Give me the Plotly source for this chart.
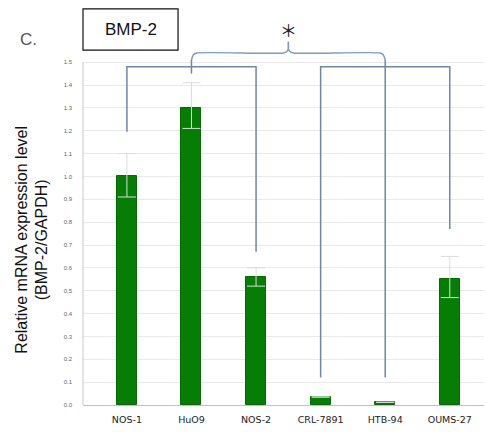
import plotly.graph_objects as go

# ---- data ----
categories = ["NOS-1", "HuO9", "NOS-2", "CRL-7891", "HTB-94", "OUMS-27"]
values = [1.00, 1.30, 0.56, 0.035, 0.012, 0.55]
err_plus = [0.10, 0.11, 0.04, 0.0, 0.0, 0.10]
err_minus = [0.09, 0.09, 0.04, 0.0, 0.0, 0.08]
y_ticks = [round(i * 0.1, 1) for i in range(16)]

# significance brackets (heights in data units)
bracket_start = [1.195, 1.45, 0.67, 0.12, 0.12, 0.77]
bracket_level = 1.48
top_level = 1.54
top_tick = 1.59
star_level = 1.645

x = list(range(len(categories)))
FONT = "Liberation Sans"
BR = "#6c88a8"

fig = go.Figure()
fig.add_trace(go.Bar(
    x=x, y=values, width=0.31,
    marker=dict(color="#067e06", line=dict(color="#046a04", width=1)),
    error_y=dict(type="data", array=err_plus, arrayminus=err_minus,
                 color="#dcdcdc", thickness=1, width=9),
    showlegend=False,
))

# lower brackets: left group (0,1,2) and right group (3,4,5)
for grp in [(0, 1, 2), (3, 4, 5)]:
    a, m, b = grp
    fig.add_trace(go.Scatter(
        x=[a, a, b, b], y=[bracket_start[a], bracket_level, bracket_level, bracket_start[b]],
        mode="lines", line=dict(color=BR, width=1.5), showlegend=False, hoverinfo="skip"))
# middle verticals rising to the top bracket
for i in (1, 4):
    fig.add_trace(go.Scatter(
        x=[i, i], y=[bracket_start[i], top_level - 0.03],
        mode="lines", line=dict(color=BR, width=1.5), showlegend=False, hoverinfo="skip"))
# top bracket with soft corners
mid = 2.5
fig.add_trace(go.Scatter(
    x=[1, 1.03, 1.08, mid - 0.08, mid - 0.02, mid, mid, mid, mid + 0.02, mid + 0.08, 3.92, 3.97, 4],
    y=[top_level - 0.03, top_level - 0.008, top_level, top_level, top_level + 0.008, top_level + 0.02,
       top_tick, top_level + 0.02, top_level + 0.008, top_level, top_level, top_level - 0.008, top_level - 0.03],
    mode="lines", line=dict(color="#7f9cbc", width=1.5, shape="spline", smoothing=0.6),
    showlegend=False, hoverinfo="skip"))

fig.add_annotation(x=mid, y=star_level, text="＊", showarrow=False,
                   font=dict(family="Noto Sans CJK JP", size=17, color="#222"))

# left axis line up to 1.5
fig.add_shape(type="line", xref="paper", yref="y", x0=0, x1=0, y0=0, y1=1.5,
              line=dict(color="#c8c8c8", width=1))

# BMP-2 box
fig.add_shape(type="rect", xref="paper", yref="y", x0=0.0, x1=0.237, y0=1.553, y1=1.733,
              line=dict(color="#111", width=1.2), fillcolor="white")
fig.add_annotation(xref="paper", yref="y", x=0.1185, y=1.643, text="BMP-2", showarrow=False,
                   xanchor="center", yanchor="middle",
                   font=dict(family=FONT, size=17, color="#111"))
fig.add_annotation(xref="paper", yref="y", x=-0.137, y=1.597, text="C.", showarrow=False,
                   xanchor="center", yanchor="middle",
                   font=dict(family=FONT, size=17, color="#555"))

# y title
fig.add_annotation(xref="paper", yref="y", x=-0.128, y=0.722, textangle=-90,
                   xanchor="center", yanchor="middle",
                   text="Relative mRNA expression level<br>(BMP-2/GAPDH)", showarrow=False,
                   font=dict(family=FONT, size=16, color="#111"))

fig.update_layout(
    width=486, height=432,
    margin=dict(l=83, r=2, t=5, b=27, autoexpand=False),
    paper_bgcolor="white", plot_bgcolor="white",
    font=dict(family=FONT),
    bargap=0,
)
fig.update_xaxes(range=[-0.68, 5.53], tickvals=x, ticktext=categories, automargin=False,
                 showgrid=False, zeroline=False, showline=True, linecolor="#c0c0c0",
                 tickfont=dict(family="DejaVu Sans", size=9.5, color="#222"),
                 ticks="", ticklabelstandoff=6)
fig.update_yaxes(range=[0, 1.75], tickvals=y_ticks, tickformat=".1f", automargin=False,
                 showgrid=True, gridcolor="#e9e9e9", gridwidth=1, zeroline=False,
                 showline=False, ticks="",
                 tickfont=dict(family=FONT, size=6, color="#666"), ticklabelstandoff=10)

fig.write_html("out.html", config={"displayModeBar": False},
               post_script="document.body.style.margin='0px';")
